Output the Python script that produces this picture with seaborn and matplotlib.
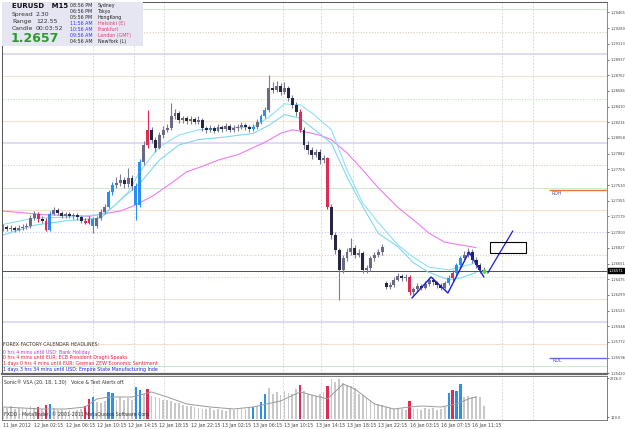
import matplotlib
matplotlib.use("Agg")
import matplotlib.pyplot as plt
from matplotlib.patches import Rectangle
import seaborn as sns
import pandas as pd
import numpy as np

# --- EURUSD M15 candles (one entry per bar) ---
opens = [1.2705, 1.2706, 1.2704, 1.2705, 1.2703, 1.2705, 1.2706, 1.2707, 1.2716, 1.2721,
         1.2715, 1.2713, 1.2703, 1.2721, 1.2725, 1.2722, 1.2718, 1.2721, 1.2718, 1.2720,
         1.2717, 1.2713, 1.2711, 1.2715, 1.2707, 1.2716, 1.2723, 1.2729, 1.2745, 1.2753,
         1.2755, 1.2759, 1.2754, 1.2761, 1.2752, 1.2731, 1.2779, 1.2798, 1.2815, 1.2804,
         1.2795, 1.2809, 1.2815, 1.2817, 1.2830, 1.2834, 1.2826, 1.2828, 1.2825, 1.2827,
         1.2824, 1.2826, 1.2817, 1.2815, 1.2817, 1.2814, 1.2818, 1.2816, 1.2819, 1.2815,
         1.2817, 1.2818, 1.2820, 1.2818, 1.2816, 1.2818, 1.2824, 1.2830, 1.2837, 1.2862,
         1.2860, 1.2864, 1.2857, 1.2862, 1.2851, 1.2843, 1.2835, 1.2815, 1.2798, 1.2792,
         1.2787, 1.2790, 1.2781, 1.2783, 1.2729, 1.2697, 1.2680, 1.2658, 1.2671, 1.2678,
         1.2683, 1.2675, 1.2677, 1.2658, 1.2660, 1.2671, 1.2675, 1.2678, 1.2643, 1.2639,
         1.2641, 1.2647, 1.2651, 1.2649, 1.2650, 1.2633, 1.2636, 1.2640, 1.2638, 1.2642,
         1.2647, 1.2644, 1.2641, 1.2638, 1.2643, 1.2649, 1.2655, 1.2663, 1.2671, 1.2675,
         1.2678, 1.2669, 1.2663, 1.2658]
highs = [1.2709, 1.2708, 1.2708, 1.2707, 1.2708, 1.2709, 1.2711, 1.2719, 1.2724, 1.2723,
         1.2718, 1.2716, 1.2724, 1.2729, 1.2727, 1.2724, 1.2723, 1.2723, 1.2722, 1.2722,
         1.2719, 1.2716, 1.2718, 1.2717, 1.2718, 1.2726, 1.2732, 1.2748, 1.2757, 1.2762,
         1.2766, 1.2762, 1.2772, 1.2764, 1.2755, 1.2782, 1.2802, 1.2837, 1.2818, 1.2807,
         1.2812, 1.2819, 1.2822, 1.2845, 1.2838, 1.2836, 1.2831, 1.2830, 1.2831, 1.2829,
         1.2830, 1.2828, 1.2819, 1.2820, 1.2819, 1.2821, 1.2820, 1.2823, 1.2821, 1.2820,
         1.2822, 1.2824, 1.2823, 1.2820, 1.2821, 1.2827, 1.2833, 1.2840, 1.2876, 1.2868,
         1.2870, 1.2867, 1.2868, 1.2864, 1.2854, 1.2846, 1.2838, 1.2818, 1.2802, 1.2796,
         1.2794, 1.2793, 1.2787, 1.2785, 1.2732, 1.2700, 1.2683, 1.2675, 1.2682, 1.2694,
         1.2686, 1.2681, 1.2679, 1.2664, 1.2674, 1.2678, 1.2681, 1.2687, 1.2645, 1.2644,
         1.2650, 1.2654, 1.2653, 1.2653, 1.2652, 1.2639, 1.2643, 1.2642, 1.2645, 1.2650,
         1.2649, 1.2646, 1.2643, 1.2646, 1.2652, 1.2658, 1.2666, 1.2674, 1.2679, 1.2683,
         1.2681, 1.2672, 1.2666, 1.2661]
lows = [1.2702, 1.2701, 1.2702, 1.2700, 1.2701, 1.2703, 1.2704, 1.2705, 1.2714, 1.2712,
        1.2710, 1.2701, 1.2702, 1.2719, 1.2719, 1.2716, 1.2716, 1.2716, 1.2715, 1.2714,
        1.2711, 1.2709, 1.2709, 1.2699, 1.2705, 1.2714, 1.2721, 1.2727, 1.2742, 1.2750,
        1.2752, 1.2750, 1.2751, 1.2748, 1.2714, 1.2728, 1.2776, 1.2795, 1.2800, 1.2790,
        1.2793, 1.2806, 1.2812, 1.2815, 1.2827, 1.2823, 1.2823, 1.2822, 1.2822, 1.2821,
        1.2821, 1.2814, 1.2811, 1.2812, 1.2811, 1.2812, 1.2813, 1.2814, 1.2812, 1.2813,
        1.2814, 1.2816, 1.2815, 1.2813, 1.2814, 1.2816, 1.2822, 1.2828, 1.2835, 1.2856,
        1.2857, 1.2854, 1.2855, 1.2847, 1.2839, 1.2830, 1.2812, 1.2794, 1.2788, 1.2782,
        1.2784, 1.2777, 1.2778, 1.2726, 1.2693, 1.2676, 1.2624, 1.2655, 1.2668, 1.2675,
        1.2671, 1.2672, 1.2655, 1.2654, 1.2657, 1.2668, 1.2672, 1.2675, 1.2636, 1.2636,
        1.2639, 1.2645, 1.2646, 1.2646, 1.2630, 1.2630, 1.2634, 1.2635, 1.2636, 1.2640,
        1.2641, 1.2638, 1.2635, 1.2636, 1.2641, 1.2646, 1.2652, 1.2660, 1.2668, 1.2672,
        1.2666, 1.2660, 1.2655, 1.2654]
closes = [1.2706, 1.2704, 1.2705, 1.2703, 1.2705, 1.2706, 1.2707, 1.2716, 1.2721, 1.2715,
          1.2713, 1.2703, 1.2721, 1.2725, 1.2722, 1.2718, 1.2721, 1.2718, 1.2720, 1.2717,
          1.2713, 1.2711, 1.2715, 1.2707, 1.2716, 1.2723, 1.2729, 1.2745, 1.2753, 1.2755,
          1.2759, 1.2754, 1.2761, 1.2752, 1.2731, 1.2779, 1.2798, 1.2815, 1.2804, 1.2795,
          1.2809, 1.2815, 1.2817, 1.2830, 1.2834, 1.2826, 1.2828, 1.2825, 1.2827, 1.2824,
          1.2826, 1.2817, 1.2815, 1.2817, 1.2814, 1.2818, 1.2816, 1.2819, 1.2815, 1.2817,
          1.2818, 1.2820, 1.2818, 1.2816, 1.2818, 1.2824, 1.2830, 1.2837, 1.2862, 1.2860,
          1.2864, 1.2857, 1.2862, 1.2851, 1.2843, 1.2835, 1.2815, 1.2798, 1.2792, 1.2787,
          1.2790, 1.2781, 1.2783, 1.2729, 1.2697, 1.2680, 1.2658, 1.2671, 1.2678, 1.2683,
          1.2675, 1.2677, 1.2658, 1.2660, 1.2671, 1.2675, 1.2678, 1.2684, 1.2639, 1.2641,
          1.2647, 1.2651, 1.2649, 1.2650, 1.2633, 1.2636, 1.2640, 1.2638, 1.2642, 1.2647,
          1.2644, 1.2641, 1.2638, 1.2643, 1.2649, 1.2655, 1.2663, 1.2671, 1.2675, 1.2678,
          1.2669, 1.2663, 1.2658, 1.2657]
volumes = [780, 720, 850, 690, 760, 820, 700, 880, 760, 840,
           650, 950, 1010, 720, 640, 600, 560, 620, 580, 640,
           700, 860, 1350, 1500, 1150, 1050, 1220, 1790, 1730, 1300,
           1450, 1250, 1400, 1300, 2170, 1970, 1680, 2010, 1550, 1450,
           1400, 1250, 1300, 1200, 1100, 1050, 950, 900, 850, 820,
           760, 700, 650, 720, 600, 680, 640, 580, 700, 620,
           660, 740, 680, 760, 800, 900, 1130, 1680, 2050, 1700,
           1800, 1600, 1900, 1750, 1650, 2000, 2280, 1900, 1700, 1600,
           1550, 1700, 1800, 2230, 2650, 2500, 2680, 2400, 2300, 2200,
           2100, 1650, 1600, 1400, 1250, 1100, 1000, 950, 800, 750,
           700, 650, 700, 620, 1200, 700, 650, 600, 720, 680,
           750, 640, 700, 800, 1730, 1950, 1860, 2350, 1500, 1560,
           1480, 1520, 1450, 900]

# VSA highlighted bars
red_bars = [9, 11, 21, 22, 37, 76, 83, 104, 115]
blue_bars = [12, 23, 27, 28, 34, 35, 64, 66, 67, 114, 116, 117]

# moving averages (sampled along the curves)
ma_fast_bars = [0, 8, 16, 25, 28, 32, 35, 40, 45, 50, 57, 64, 68, 72, 76, 79, 84, 88, 92, 96, 101, 105, 109, 114, 117, 121]
ma_fast_vals = [1.2709, 1.2716, 1.2717, 1.2720, 1.2728, 1.2745, 1.2768, 1.2796, 1.2809, 1.2815, 1.2817, 1.2818,
                1.2829, 1.2844, 1.2843, 1.2834, 1.2815, 1.2770, 1.2733, 1.2711, 1.2686, 1.2672, 1.2661, 1.2658,
                1.2661, 1.2666]
ma_mid_bars = [0, 8, 16, 25, 30, 35, 40, 45, 50, 57, 64, 68, 72, 76, 84, 88, 92, 96, 101, 105, 109, 114, 117, 121]
ma_mid_vals = [1.2697, 1.2708, 1.2713, 1.2716, 1.2736, 1.2755, 1.2781, 1.2798, 1.2804, 1.2807, 1.2811, 1.2820,
               1.2832, 1.2828, 1.2800, 1.2762, 1.2729, 1.2699, 1.2684, 1.2666, 1.2655, 1.2647, 1.2649, 1.2655]
ma_slow_bars = [0, 10, 22, 30, 33, 38, 43, 47, 51, 55, 60, 64, 67, 71, 74, 78, 81, 84, 88, 92, 96, 101, 105, 109,
                113, 117, 121]
ma_slow_vals = [1.2724, 1.2720, 1.2718, 1.2724, 1.2729, 1.2740, 1.2755, 1.2768, 1.2774, 1.2781, 1.2787, 1.2795,
                1.2801, 1.2811, 1.2815, 1.2812, 1.2809, 1.2804, 1.2789, 1.2770, 1.2750, 1.2728, 1.2714, 1.2699,
                1.2689, 1.2686, 1.2683]
vol_ma_bars = [0, 10, 16, 21, 24, 27, 33, 38, 42, 47, 53, 59, 64, 71, 76, 83, 87, 90, 95, 100, 104, 107, 112, 116,
               119, 121]
vol_ma_vals = [815, 682, 682, 815, 1348, 1481, 1481, 1814, 1481, 1015, 815, 682, 815, 1215, 1814, 1348, 2347, 2014,
               1015, 682, 815, 882, 815, 1015, 1348, 1481]

# round-number levels and their line kind
level_prices = [1.2950, 1.2925, 1.2900, 1.2875, 1.2850, 1.2825, 1.2800, 1.2775, 1.2750,
                1.2725, 1.2700, 1.2675, 1.2650, 1.2625, 1.2600, 1.2575, 1.2550]
level_kinds = ['green', 'tan', 'lav', 'orange', 'green_dot', 'orange', 'lav', 'tan', 'green',
               'orange', 'lav_dot', 'tan', 'green_dot', 'orange', 'lav', 'orange', 'green']
separator_bars = [23, 33.5, 41.2, 71.6, 81.3, 89.5, 127.6, 135.5]
rdh_price, rdl_price, rd_start = 1.27475, 1.25595, 139.6
bid_price = 1.2657

# hand drawn objects
zigzag_bars = [104.6, 109.5, 113.8, 119.2, 123.0]
zigzag_prices = [1.26265, 1.26500, 1.26321, 1.26780, 1.26500]
proj_bars = [124.0, 130.4]
proj_prices = [1.26545, 1.27016]
box_bars = [124.6, 133.8]
box_prices = [1.26769, 1.26892]

price_ticks = [1.25420, 1.25596, 1.25772, 1.25948, 1.26123, 1.26299, 1.26475, 1.26651, 1.26827, 1.27003,
               1.27179, 1.27355, 1.27530, 1.27706, 1.27882, 1.28058, 1.28234, 1.28410, 1.28586, 1.28762,
               1.28937, 1.29113, 1.29289, 1.29465]
time_labels = ['11 Jan 2012', '12 Jan 02:15', '12 Jan 06:15', '12 Jan 10:15', '12 Jan 14:15', '12 Jan 18:15',
               '12 Jan 22:15', '13 Jan 02:15', '13 Jan 06:15', '13 Jan 10:15', '13 Jan 14:15', '13 Jan 18:15',
               '13 Jan 22:15', '16 Jan 03:15', '16 Jan 07:15', '16 Jan 11:15']
time_label_bars = [0, 8, 16, 24, 32, 40, 48, 56, 64, 72, 80, 88, 96, 104, 112, 120]
vol_ticks = [129.0, 2726.0]

W, H = 625, 429
sns.set_style('white')
plt.rcParams['font.family'] = ['DejaVu Sans']

df = pd.DataFrame({'bar': np.arange(len(closes)), 'open': opens, 'high': highs,
                   'low': lows, 'close': closes, 'volume': volumes})
df['vsa'] = 'none'
df.loc[df['bar'].isin(red_bars), 'vsa'] = 'red'
df.loc[df['bar'].isin(blue_bars), 'vsa'] = 'blue'

RED, BLUE = '#e02c55', '#2a8ff0'


def px(x, y):
    return x / W, 1 - y / H


fig = plt.figure(figsize=(W / 100, H / 100), dpi=100)
fig.patch.set_facecolor('white')
ax = fig.add_axes([2 / W, 55 / H, 605 / W, 372 / H])
axv = fig.add_axes([2 / W, 9 / H, 605 / W, 44 / H], sharex=ax)

xmin, xmax = -0.26, 154.5
ax.set_xlim(xmin, xmax)
ax.set_ylim(1.25413, 1.29582)

# level lines
level_style = {
    'green': dict(color='#cdeccd', lw=0.8, ls='-'),
    'green_dot': dict(color='#bfe6bf', lw=0.8, ls=(0, (1, 1.5))),
    'tan': dict(color='#ddcdb8', lw=0.8, ls=(0, (1, 1.5))),
    'orange': dict(color='#f6e0d0', lw=0.8, ls='-'),
    'lav': dict(color='#dcdcf2', lw=1.5, ls='-'),
    'lav_dot': dict(color='#c8c8f0', lw=0.8, ls=(0, (1, 1.5))),
}
for p, k in zip(level_prices, level_kinds):
    ax.axhline(p, zorder=0, **level_style[k])
for b in separator_bars:
    ax.axvline(b, color='#d2d2d2', lw=0.6, ls=(0, (2, 2)), zorder=0)
    axv.axvline(b, color='#d2d2d2', lw=0.6, ls=(0, (2, 2)), zorder=0)

ax.axhline(bid_price, color='#505050', lw=0.7, zorder=1)

# moving averages
sns.lineplot(x=ma_slow_bars, y=ma_slow_vals, ax=ax, color='#f07af0', lw=0.8, zorder=2)
sns.lineplot(x=ma_mid_bars, y=ma_mid_vals, ax=ax, color='#7fd8f0', lw=0.8, zorder=2)
sns.lineplot(x=ma_fast_bars, y=ma_fast_vals, ax=ax, color='#8ee0f5', lw=0.8, zorder=2)

# candles
up = df['close'] >= df['open']
body_col = np.where(up, '#6a6a82', '#262640')
body_col = np.where(df['vsa'] == 'red', RED, body_col)
body_col = np.where(df['vsa'] == 'blue', BLUE, body_col)
wick_col = np.where(df['vsa'] == 'none', '#7c7c92', body_col)
ax.vlines(df['bar'], df['low'], df['high'], colors=wick_col, lw=0.8, zorder=3)
body_low = df[['open', 'close']].min(axis=1)
body_h = (df['close'] - df['open']).abs().clip(lower=0.00005)
ax.bar(df['bar'], body_h, bottom=body_low, width=0.75, color=body_col, linewidth=0, zorder=4)

# drawings
ax.plot(zigzag_bars, zigzag_prices, color='#1c1cdc', lw=1.0, zorder=5)
ax.plot(proj_bars, proj_prices, color='#1c1cdc', lw=0.9, zorder=5)
ax.add_patch(Rectangle((box_bars[0], box_prices[0]), box_bars[1] - box_bars[0],
                       box_prices[1] - box_prices[0], fill=False, ec='black', lw=0.8, zorder=5))
ax.scatter([df['bar'].iloc[-1]], [bid_price], s=9, color='#3ee03e', zorder=6, linewidths=0)

ax.hlines(rdh_price, rd_start, xmax, color='#f07050', lw=1.0)
ax.hlines(rdl_price, rd_start, xmax, color='#6a6af0', lw=1.0)
ax.text(rd_start + 0.6, rdh_price - 0.00008, 'RDH', fontsize=3.4, color='#5858b8', va='top')
ax.text(rd_start + 1.0, rdl_price - 0.00008, 'RDL', fontsize=3.4, color='#5858b8', va='top')

# price axis
ax.yaxis.tick_right()
ax.set_yticks(price_ticks)
ax.set_yticklabels([f'{t:.5f}' for t in price_ticks])
ax.tick_params(axis='y', labelsize=2.6, length=1.5, width=0.5, pad=0.8, colors='#444444')
ax.tick_params(axis='x', bottom=False, labelbottom=False)
ax.annotate(f'{bid_price + 0.00001:.5f}', xy=(1.003, bid_price), xycoords=('axes fraction', 'data'),
            fontsize=2.6, color='white', va='center', ha='left',
            bbox=dict(boxstyle='square,pad=0.15', fc='black', ec='black'))
for s in ['top', 'left']:
    ax.spines[s].set_color('#555555')
    ax.spines[s].set_linewidth(0.7)
ax.spines['right'].set_color('#777777')
ax.spines['right'].set_linewidth(0.6)
ax.spines['bottom'].set_color('#666666')
ax.spines['bottom'].set_linewidth(1.6)
ax.set_xlabel('')
ax.set_ylabel('')

# volume panel
vcol = np.where(df['vsa'] == 'red', RED, np.where(df['vsa'] == 'blue', BLUE, '#c8c8c8'))
vwidth = np.where(df['vsa'] == 'none', 0.45, 0.6)
axv.bar(df['bar'], df['volume'], width=vwidth, color=vcol, linewidth=0, zorder=2)
sns.lineplot(x=vol_ma_bars, y=vol_ma_vals, ax=axv, color='#9a9a9a', lw=0.7, zorder=3)
axv.set_ylim(-51, 2879)
axv.set_xlim(xmin, xmax)
axv.yaxis.tick_right()
axv.set_yticks(vol_ticks)
axv.set_yticklabels([f'{v:.1f}' for v in vol_ticks])
axv.tick_params(axis='y', labelsize=2.6, length=1.5, width=0.5, pad=0.8, colors='#444444')
axv.set_xticks(time_label_bars)
axv.set_xticklabels(time_labels, ha='left')
axv.tick_params(axis='x', labelsize=3.3, length=1.5, width=0.5, pad=1, colors='#444444')
for s in axv.spines.values():
    s.set_color('#666666')
    s.set_linewidth(0.6)
axv.set_xlabel('')
axv.set_ylabel('')

axv.text(0.003, 0.92, 'Sonic® VSA (20, 18, 1.30)   Voice & Text Alerts off.', transform=axv.transAxes,
         fontsize=3.4, color='#333333', va='top')
axv.text(0.003, 0.06, 'FXDD - MetaTrader, © 2001-2011 MetaQuotes Software Corp.', transform=axv.transAxes,
         fontsize=3.4, color='#333333', va='bottom', zorder=5)

# calendar headlines
cal_lines = [('FOREX FACTORY CALENDAR HEADLINES:', '#3a3a3a', 344.5),
             ('0 hrs 4 mins until USD: Bank Holiday', '#b23cc8', 352.3),
             ('0 hrs 4 mins until EUR: ECB President Draghi Speaks', '#e8203c', 358.0),
             ('1 days 0 hrs 4 mins until EUR: German ZEW Economic Sentiment', '#e8203c', 363.7),
             ('1 days 3 hrs 34 mins until USD: Empire State Manufacturing Inde', '#2020d8', 369.7)]
for txt, c, y in cal_lines:
    fig.text(*px(3, y), txt, fontsize=3.4, color=c, va='center')

# info box
fig.patches.append(Rectangle(px(2, 46), 141 / W, 44 / H, transform=fig.transFigure,
                             fc='#e6e6f3', ec='none', zorder=10))
fig.text(*px(12, 6.5), 'EURUSD   M15', fontsize=5, weight='bold', color='#111111', va='center', zorder=11)
for lab, val, y in [('Spread', '2.30', 14.8), ('Range', '122.55', 21.2), ('Candle', '00:03:52', 28.3)]:
    fig.text(*px(12, y), lab, fontsize=4.4, color='#333333', va='center', zorder=11)
    fig.text(*px(36, y), val, fontsize=4.4, color='#333333', va='center', zorder=11)
fig.text(*px(11, 38.5), '1.2657', fontsize=9, weight='bold', color='#2a9a2a', va='center', zorder=11)
clock_rows = [('08:56 PM', 'Sydney', '#222222', '#222222'),
              ('06:56 PM', 'Tokyo', '#222222', '#222222'),
              ('05:56 PM', 'HongKong', '#222222', '#222222'),
              ('11:56 AM', 'Helsinki (E)', '#3232ff', '#e83a6a'),
              ('10:56 AM', 'Frankfurt', '#3232ff', '#e83a6a'),
              ('09:56 AM', 'London (GMT)', '#3232ff', '#e83a6a'),
              ('04:56 AM', 'NewYork (L)', '#222222', '#222222')]
for i, (t, name, ct, cn) in enumerate(clock_rows):
    y = 5.8 + i * 5.9
    fig.text(*px(70, y), t, fontsize=3.4, color=ct, va='center', zorder=11)
    fig.text(*px(98, y), name, fontsize=3.4, color=cn, va='center', zorder=11)

fig.savefig('out.png', dpi=100, facecolor='white')
